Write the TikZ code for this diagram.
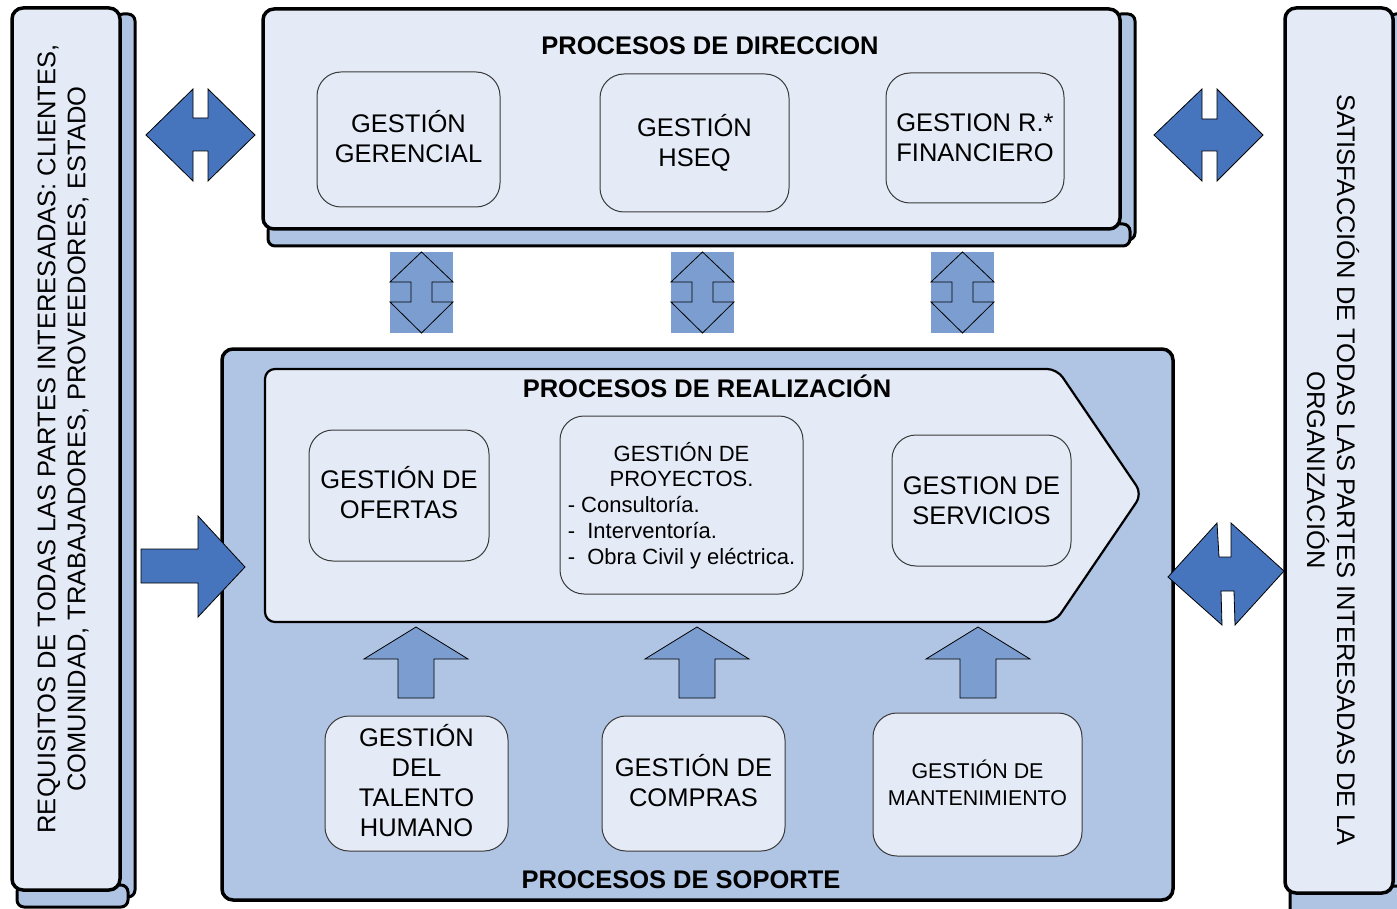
\documentclass[tikz,border=0pt]{standalone}
\usepackage{fontspec}
\setmainfont{Liberation Sans}
\definecolor{lightfill}{HTML}{E4EBF6}
\definecolor{supfill}{HTML}{B0C4E4}
\definecolor{shadowfill}{HTML}{AFC3E3}
\definecolor{darkarrow}{HTML}{4775BD}
\definecolor{midarrow}{HTML}{7B9DCF}
\definecolor{boxline}{HTML}{3A3A3A}
\tikzset{
  bigbox/.style={draw=black, line width=3.5pt, fill=lightfill, rounded corners=11pt},
  shadowstrip/.style={draw=black, line width=3pt, fill=shadowfill, rounded corners=7pt},
  innerbox/.style={draw=boxline, line width=1pt, fill=lightfill, rounded corners=24pt, inner sep=0pt},
  bigtxt/.style={font=\fontsize{25.5}{30}\selectfont, align=center, inner sep=0pt},
  midtxt/.style={font=\fontsize{22}{25.75}\selectfont, align=center, inner sep=0pt},
  smalltxt/.style={font=\fontsize{21.4}{27}\selectfont, align=center, inner sep=0pt},
  titletxt/.style={font=\fontsize{25.5}{30}\selectfont\bfseries},
  darkarr/.style={draw=black, line width=0.8pt, fill=darkarrow, line join=miter},
  midarr/.style={draw=black, line width=0.8pt, fill=midarrow, line join=miter},
}
\begin{document}
\begin{tikzpicture}[x=1pt, y=-1pt]
\useasboundingbox (0,0) rectangle (1397,909);
\clip (0,0) rectangle (1397,909);
\fill[white] (0,0) rectangle (1397,909);

% ---------- left column ----------
\draw[shadowstrip] (116,14) rectangle (135,897);
\draw[shadowstrip] (17,885) rectangle (128,907);
\draw[bigbox] (12,8) rectangle (120,890);
\node[bigtxt, rotate=90] (req) at (63,439)
  {REQUISITOS DE TODAS LAS PARTES INTERESADAS: CLIENTES,\\COMUNIDAD, TRABAJADORES, PROVEEDORES, ESTADO};

% ---------- right column ----------
\draw[shadowstrip] (1389,14) rectangle (1408,897);
\draw[shadowstrip] (1290,886) rectangle (1405,915);
\draw[bigbox] (1285,8) rectangle (1393,893);
\node[bigtxt, rotate=-90] (sat) at (1333,470)
  {SATISFACCIÓN DE TODAS LAS PARTES INTERESADAS DE LA\\ORGANIZACIÓN};

% ---------- top box ----------
\draw[shadowstrip] (1114,14) rectangle (1135,240);
\draw[shadowstrip] (268,224) rectangle (1130,246);
\draw[bigbox] (263,9) rectangle (1120,229);
\node[titletxt] (dirt) at (710,46) {PROCESOS DE DIRECCION};
\node[innerbox, minimum width=183pt, minimum height=135pt] (ger) at (408.5,139.5) {};
\node[bigtxt] (gert) at ([yshift=3pt]ger.center) {GESTIÓN\\GERENCIAL};
\node[innerbox, minimum width=189pt, minimum height=138pt] (hseq) at (694.5,143) {};
\node[bigtxt] (hseqt) at (hseq.center) {GESTIÓN\\HSEQ};
\node[innerbox, minimum width=178pt, minimum height=130pt] (fin) at (975,138) {};
\node[bigtxt] (fint) at (fin.center) {GESTION R.*\\FINANCIERO};

% ---------- horizontal double arrows ----------
\draw[darkarr] (146,135) -- (193,89) -- (193,118) -- (208,118) -- (208,89) -- (255,135)
  -- (208,181) -- (208,151) -- (193,151) -- (193,181) -- cycle;
\draw[darkarr] (1154,135) -- (1202,89) -- (1202,119) -- (1217,119) -- (1217,89) -- (1263,135)
  -- (1217,181) -- (1217,151) -- (1202,151) -- (1202,181) -- cycle;

% ---------- vertical double arrows ----------
\foreach \cx in {421.5,702.5,962.5}{
  \fill[midarrow] (\cx-31.5,252) rectangle (\cx+31.5,333);
  \draw[black, line width=0.8pt, line join=miter]
    (\cx,252) -- (\cx+31.5,282) -- (\cx+10.5,282) -- (\cx+10.5,302) -- (\cx+31.5,302)
    -- (\cx,333) -- (\cx-31.5,302) -- (\cx-10.5,302) -- (\cx-10.5,282) -- (\cx-31.5,282) -- cycle;
}

% ---------- support box ----------
\draw[bigbox, fill=supfill] (222,349) rectangle (1173,900);
\node[titletxt] (sopt) at (681,880) {PROCESOS DE SOPORTE};

% ---------- chevron (realizacion) ----------
\draw[draw=black, line width=2.2pt, fill=lightfill, rounded corners=10pt]
  (265,369) -- (1057,369) -- (1142,494) -- (1055,622) -- (265,622) -- cycle;
\node[titletxt] (realt) at (707,386) {PROCESOS DE REALIZACIÓN};
\node[innerbox, minimum width=180pt, minimum height=131pt] (ofe) at (399,495.5) {};
\node[bigtxt] (ofet) at ([yshift=2.5pt]ofe.center) {GESTIÓN DE\\OFERTAS};
\node[innerbox, minimum width=243pt, minimum height=178pt] (proy) at (681.5,505) {};
\node[midtxt] (proyt) at ([yshift=-2pt]proy.center)
  {\begin{tabular}{@{}l@{}}\multicolumn{1}{@{}c@{}}{GESTIÓN DE}\\\multicolumn{1}{@{}c@{}}{PROYECTOS.}\\- Consultoría.\\-\ \ Interventoría.\\-\ \ Obra Civil y eléctrica.\end{tabular}};
\node[innerbox, minimum width=179pt, minimum height=131pt] (serv) at (981.5,500.5) {};
\node[bigtxt] (servt) at (serv.center) {GESTION DE\\SERVICIOS};

% ---------- up arrows ----------
\foreach \cx in {416,697,978}{
  \draw[midarr] (\cx,627) -- (\cx+52,659) -- (\cx+18,659) -- (\cx+18,698) -- (\cx-18,698)
    -- (\cx-18,659) -- (\cx-52,659) -- cycle;
}

% ---------- support sub-boxes ----------
\node[innerbox, minimum width=183pt, minimum height=135pt] (tal) at (416.5,783.5) {};
\node[bigtxt] (talt) at ([yshift=3pt]tal.center) {GESTIÓN\\DEL\\TALENTO\\HUMANO};
\node[innerbox, minimum width=183pt, minimum height=135pt] (com) at (693.5,783.5) {};
\node[bigtxt] (comt) at ([yshift=3pt]com.center) {GESTIÓN DE\\COMPRAS};
\node[innerbox, minimum width=209pt, minimum height=143pt] (man) at (977.5,784.5) {};
\node[smalltxt] (mant) at ([yshift=2pt]man.center) {GESTIÓN DE\\MANTENIMIENTO};

% ---------- input arrow ----------
\draw[darkarr] (141,549) -- (198,549) -- (198,516) -- (245,567) -- (198,617) -- (198,583) -- (141,583) -- cycle;

% ---------- bottom-right double arrow ----------
\draw[darkarr] (1168,577) -- (1217,523) -- (1219,557) -- (1231,557) -- (1231,523) -- (1284,571)
  -- (1235,625) -- (1234,591) -- (1221,591) -- (1222,625) -- cycle;
\end{tikzpicture}
\end{document}
